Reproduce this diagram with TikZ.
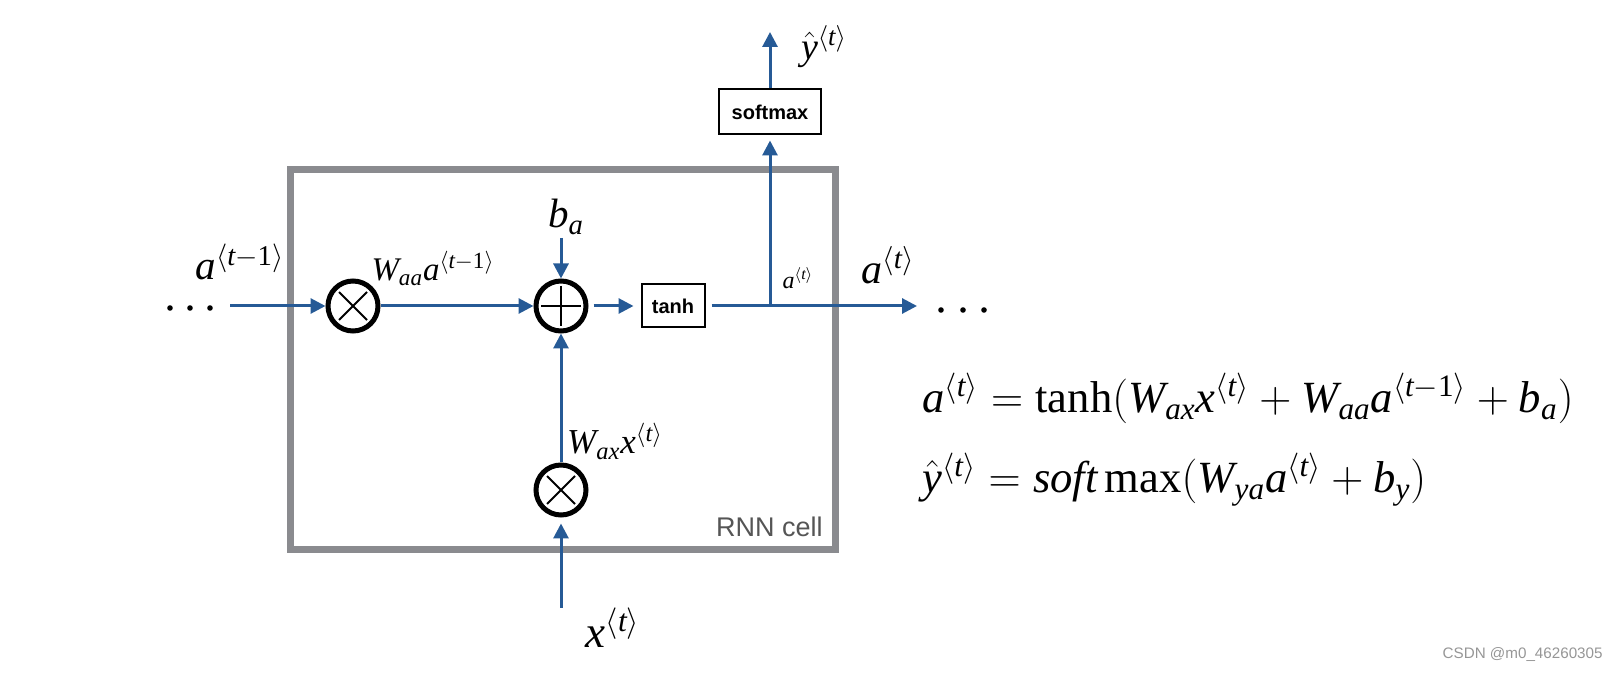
\documentclass[tikz,border=0pt]{standalone}
\usepackage{fix-cm}
\usepackage{mathspec}
\setmainfont{Liberation Serif}
\setsansfont{Liberation Sans}
\setmathsfont(Digits,Latin)[Uppercase=Italic,Lowercase=Italic]{Liberation Serif}
\setmathrm{Liberation Serif}
\usetikzlibrary{arrows.meta}
\definecolor{arrowblue}{RGB}{38,90,150}
\definecolor{cellgray}{RGB}{138,139,143}
\definecolor{labelgray}{RGB}{85,85,85}
\definecolor{markgray}{RGB}{150,150,150}
\begin{document}
\begin{tikzpicture}[x=0.5pt,y=-0.5pt,
  flow/.style={draw=arrowblue, line width=1.5pt, -{Triangle[length=7.5pt,width=7.5pt]}},
  opcircle/.style={circle, draw=black, line width=2.5pt, minimum size=25pt, inner sep=0pt},
  opmark/.style={draw=black, line width=1pt},
  opbox/.style={draw=black, line width=1pt, font=\sffamily\bfseries\fontsize{10}{12}\selectfont, inner sep=0pt},
  lbl/.style={inner sep=0pt},
  big/.style={font=\fontsize{20.5}{21}\selectfont},
  mid/.style={font=\fontsize{16.5}{17}\selectfont},
  eq/.style={inner sep=0pt, anchor=base west, font=\fontsize{22.3}{23}\selectfont},
  dotmark/.style={circle, fill=black, inner sep=0pt, minimum size=2.8pt}]
\useasboundingbox (0,0) rectangle (1618,673);
% cell
\node[draw=cellgray, line width=3.5pt, minimum width=272.5pt, minimum height=190pt, inner sep=0pt] (cell) at (562.5,360) {};
\node[lbl, anchor=south east, text=labelgray, font=\sffamily\fontsize{13.5}{15}\selectfont] (cellname) at (823,537) {RNN cell};
% operators
\node[opcircle] (otA) at (353,306) {};
\node[opcircle] (plus) at (561,306) {};
\node[opcircle] (otX) at (561,490) {};
\draw[opmark] (otA.center) ++(-14,-14) -- ++(28,28) (otA.center) ++(14,-14) -- ++(-28,28);
\draw[opmark] (otX.center) ++(-14,-14) -- ++(28,28) (otX.center) ++(14,-14) -- ++(-28,28);
\draw[opmark] (plus.center) ++(-20,0) -- ++(40,0) (plus.center) ++(0,-20) -- ++(0,40);
\node[opbox, minimum width=31.5pt, minimum height=21.5pt] (tanh) at (673,306) {tanh};
\node[opbox, minimum width=51pt, minimum height=22.5pt] (soft) at (770,112) {softmax};
% coordinates
\coordinate (ain) at (230,306);
\coordinate (split) at (770,306);
\coordinate (aout) at (917,306);
\coordinate (yout) at (770,32);
\coordinate (bin) at (561,238);
\coordinate (xin) at (561,608);
% connectors
\draw[flow] (ain) -- (otA);
\draw[flow] (otA) -- (plus);
\draw[flow] (bin) -- (plus);
\draw[flow] (otX) -- (plus);
\draw[flow, shorten >=3pt] (xin) -- (otX);
\draw[flow, shorten <=2.5pt, shorten >=3.5pt] (plus) -- (tanh);
\draw[flow, shorten <=3pt] (tanh) -- (aout);
\draw[flow, shorten >=2.5pt] (split) -- (soft);
\draw[flow] (soft) -- (yout);
% dots
\node[dotmark] (l1) at (170,308) {};
\node[dotmark] (l2) at (190,308) {};
\node[dotmark] (l3) at (210,308) {};
\node[dotmark] (r1) at (941,310) {};
\node[dotmark] (r2) at (963,310) {};
\node[dotmark] (r3) at (984,310) {};
% labels
\node[lbl, big] (lain) at (240,262) {$a^{\langle t-1\rangle}$};
\node[lbl, mid] (lwaa) at (433,268) {$W_{aa}a^{\langle t-1\rangle}$};
\node[lbl, big] (lba) at (566,217) {$b_a$};
\node[lbl, font=\fontsize{19}{19}\selectfont] (lyhat) at (824,47) {$\hat{y}^{\langle t\rangle}$};
\node[lbl, font=\fontsize{12}{12}\selectfont] (lasmall) at (798,278) {$a^{\langle t\rangle}$};
\node[lbl, font=\fontsize{21}{21}\selectfont] (laout) at (888,265) {$a^{\langle t\rangle}$};
\node[lbl, font=\fontsize{17.5}{18}\selectfont] (lwax) at (615,441) {$W_{ax}x^{\langle t\rangle}$};
\node[lbl, font=\fontsize{22.5}{23}\selectfont] (lxin) at (613,628) {$x^{\langle t\rangle}$};
% equations
\node[eq] (eq1) at (922,413) {$a^{\langle t\rangle}=\tanh(W_{ax}x^{\langle t\rangle}+W_{aa}a^{\langle t-1\rangle}+b_a)$};
\node[eq] (eq2) at (922,493) {$\hat{y}^{\langle t\rangle}=\mathit{soft}\max(W_{ya}a^{\langle t\rangle}+b_y)$};
% watermark
\node[lbl, anchor=east, text=markgray, font=\sffamily\fontsize{7.6}{8}\selectfont] (mark) at (1603,655) {CSDN @m0\_46260305};
\end{tikzpicture}
\end{document}
